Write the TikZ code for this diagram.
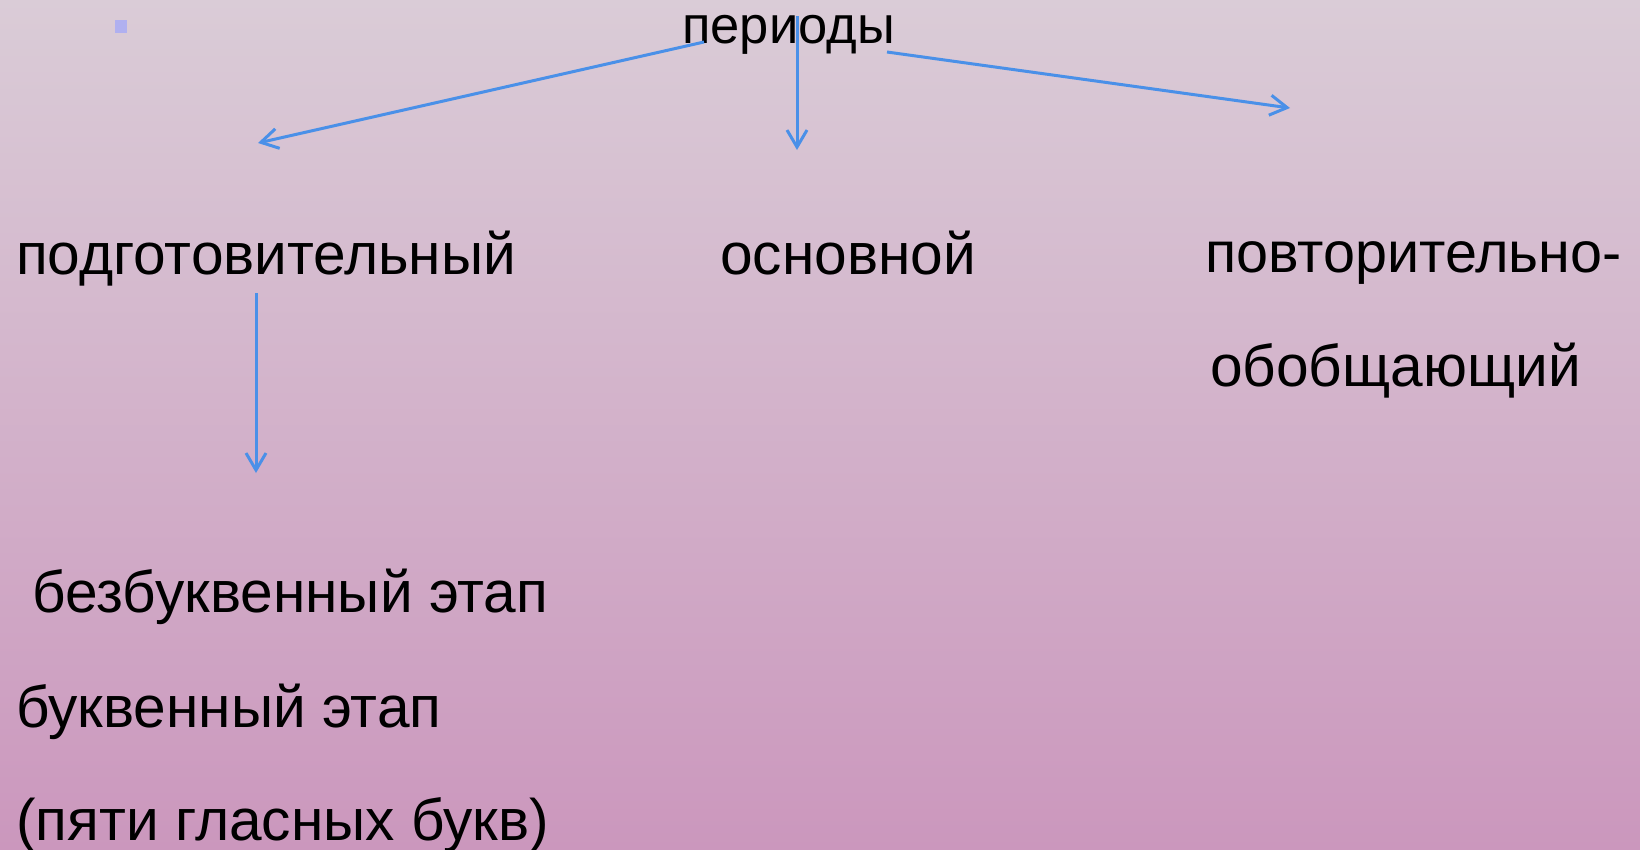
\documentclass[tikz,border=0pt]{standalone}
\usepackage{fontspec}
\setmainfont{Liberation Sans}
\usetikzlibrary{arrows.meta}
\definecolor{bgtop}{RGB}{218,204,215}
\definecolor{bgbot}{RGB}{203,151,189}
\definecolor{arrowblue}{RGB}{74,144,232}
\definecolor{bulletcol}{RGB}{176,176,240}
\tikzset{
  lbl/.style={anchor=base west, inner sep=0pt, font=\fontsize{58.6}{70}\selectfont, text=black},
  conn/.style={draw=arrowblue, line width=3pt, -{Straight Barb[length=17pt,width=20pt,line width=3pt]}}
}
\begin{document}
\begin{tikzpicture}[x=1pt,y=-1pt]
\useasboundingbox (0,0) rectangle (1640,849);
\shade[top color=bgtop, bottom color=bgbot] (0,0) rectangle (1640,849);
\fill[bulletcol] (115,20) rectangle (127,33);
\node[lbl, font=\fontsize{52.5}{63}\selectfont] (per) at (682,43) {периоды};
\node[lbl] (podg) at (16,274) {подготовительный};
\node[lbl] (osn) at (720,274) {основной};
\node[lbl, font=\fontsize{57.5}{69}\selectfont] (povt) at (1205,272) {повторительно-};
\node[lbl] (obob) at (1210,386) {обобщающий};
\node[lbl] (bezb) at (16,612) {\ безбуквенный этап};
\node[lbl] (bukv) at (16,727) {буквенный этап};
\node[lbl] (pyat) at (16,840) {(пяти гласных букв)};
\coordinate (s1) at (704,42);
\coordinate (e1) at (258,143);
\coordinate (s2) at (797,16);
\coordinate (e2) at (797,150);
\coordinate (s3) at (887,52);
\coordinate (e3) at (1290,108);
\coordinate (s4) at (256,293);
\coordinate (e4) at (256,473);
\draw[conn] (s1) -- (e1);
\draw[conn] (s2) -- (e2);
\draw[conn] (s3) -- (e3);
\draw[conn] (s4) -- (e4);
\end{tikzpicture}
\end{document}
